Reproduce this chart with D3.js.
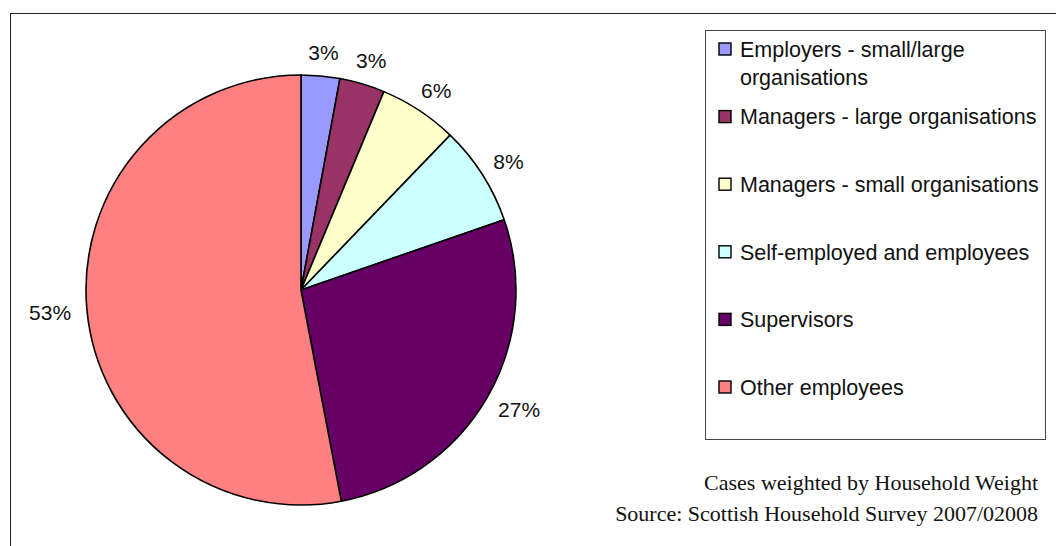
<!DOCTYPE html>
<html>
<head>
<meta charset="utf-8">
<script src="https://d3js.org/d3.v7.min.js"></script>
<style>
  body { margin: 0; background: #fff; }
  svg { display: block; }
</style>
</head>
<body>
<script>
// data
var categories = [
    "Employers - small/large organisations",
    "Managers - large organisations",
    "Managers - small organisations",
    "Self-employed and employees",
    "Supervisors",
    "Other employees"
];
var values = [2.9, 3.4, 5.9, 7.5, 27.3, 53.0];
var colours = ["#9999FF", "#993366", "#FFFFCC", "#CCFFFF", "#660066", "#FF8080"];
var notes = [
    "Cases weighted by Household Weight",
    "Source: Scottish Household Survey 2007/02008"
];

var width = 1056,
    height = 546;

var svg = d3.select("body")
    .append("svg")
    .attr("width", width)
    .attr("height", height);

// outer chart frame (only top and left show in the window)
svg.append("rect")
    .attr("x", 10.5)
    .attr("y", 13.5)
    .attr("width", 1200)
    .attr("height", 800)
    .attr("fill", "none")
    .attr("stroke", "#222")
    .attr("stroke-width", 1);

var cx = 301, cy = 290, R = 215;

var pie = d3.pie().sort(null).value(function(d){ return d; });
var arcs = pie(values);
var arc = d3.arc().innerRadius(0).outerRadius(R);

var g = svg.append("g").attr("transform", "translate(" + cx + "," + cy + ")");

g.selectAll("path")
    .data(arcs)
    .enter()
    .append("path")
    .attr("d", arc)
    .attr("fill", function(d, i){ return colours[i]; })
    .attr("stroke", "#000")
    .attr("stroke-width", 1.6)
    .attr("stroke-linejoin", "round");

var fmt = function(v){ return Math.round(v) + "%"; };

// percentage labels just outside the pie
g.selectAll("text.pct")
    .data(arcs)
    .enter()
    .append("text")
    .attr("class", "pct")
    .attr("font-family", "Liberation Sans, Arial, sans-serif")
    .attr("font-size", 21)
    .attr("fill", "#111")
    .attr("text-anchor", "middle")
    .attr("dy", "0.36em")
    .text(function(d){ return fmt(d.data); })
    .each(function(d){
        var a = (d.startAngle + d.endAngle) / 2;
        var s = Math.sin(a), c = Math.cos(a);
        var hw = this.getComputedTextLength() / 2, hh = 8;
        var r = R + 16;
        d3.select(this)
            .attr("x", s * r + s * hw)
            .attr("y", -c * r - c * hh);
    });

// legend
var legX = 705.5, legY = 30.5, legW = 340, legH = 409;
svg.append("rect")
    .attr("x", legX).attr("y", legY)
    .attr("width", legW).attr("height", legH)
    .attr("fill", "#fff")
    .attr("stroke", "#444")
    .attr("stroke-width", 1);

var rowY = d3.scaleLinear().domain([0, 5]).range([49, 387]);

var items = svg.selectAll("g.leg")
    .data(categories)
    .enter()
    .append("g")
    .attr("class", "leg")
    .attr("transform", function(d, i){ return "translate(0," + rowY(i) + ")"; });

items.append("rect")
    .attr("x", 719)
    .attr("y", -6)
    .attr("width", 12)
    .attr("height", 12)
    .attr("fill", function(d, i){ return colours[i]; })
    .attr("stroke", "#000")
    .attr("stroke-width", 1.4);

items.append("text")
    .attr("font-family", "Liberation Sans, Arial, sans-serif")
    .attr("font-size", 21.5)
    .attr("fill", "#111")
    .each(function(d){
        var t = d3.select(this);
        var words = d.split(" "), line = [];
        var ts = t.append("tspan").attr("x", 740).attr("dy", "0.36em");
        words.forEach(function(w){
            line.push(w);
            ts.text(line.join(" "));
            if (ts.node().getComputedTextLength() > 302 && line.length > 1) {
                line.pop();
                ts.text(line.join(" "));
                line = [w];
                ts = t.append("tspan").attr("x", 740).attr("dy", "28px").text(w);
            }
        });
    });

// source notes
svg.selectAll("text.note")
    .data(notes)
    .enter()
    .append("text")
    .attr("class", "note")
    .attr("x", 1038)
    .attr("y", function(d, i){ return 490 + i * 31; })
    .attr("text-anchor", "end")
    .attr("font-family", "Liberation Serif, Times New Roman, serif")
    .attr("font-size", 22)
    .attr("fill", "#111")
    .text(function(d){ return d; });
</script>
</body>
</html>
